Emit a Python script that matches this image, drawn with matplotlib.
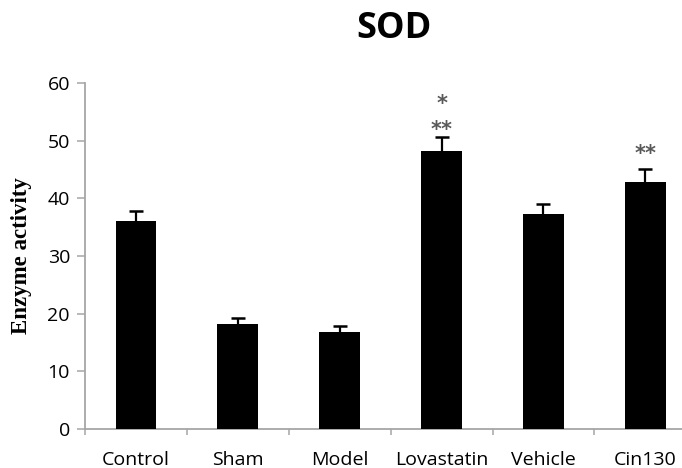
import matplotlib.pyplot as plt
import numpy as np

groups = ["Control", "Sham", "Model", "Lovastatin", "Vehicle", "Cin130"]
activity = [36.0, 18.2, 16.9, 48.2, 37.2, 42.9]
err_up = [1.8, 1.0, 0.9, 2.5, 1.9, 2.2]
# significance marks: (group index, text, height of mark centre)
marks = [(3, "**", 52.8), (3, "*", 57.3), (5, "**", 48.6)]

fig = plt.figure(figsize=(6.82, 4.68), dpi=100)
ax = fig.add_axes([85/682, 1 - 429/468, 1 - 85/682, (429 - 83)/468])

x = np.arange(len(groups))
top = np.array(activity) + np.array(err_up)
ax.vlines(x, activity, top, color="black", lw=1.6, zorder=2)
ax.plot(x, top, "_", color="black", ms=10, mew=1.8, zorder=2)
ax.bar(x, activity, width=0.40, color="black", zorder=3)

# asterisk glyph sits ~0.55 em above the baseline
fs = 15
px_per_unit = (429 - 83) / 60
for i, txt, yc in marks:
    ax.text(x[i], yc - 0.55 * fs / 72 * 100 / px_per_unit, txt, ha="center",
            va="baseline", fontsize=fs, fontweight="bold", color="#595959",
            fontfamily="DejaVu Sans")

ax.set_xlim(-0.5, 5.36)
ax.set_ylim(0, 60)
ax.set_yticks(range(0, 61, 10))
ax.set_xticks(x)
ax.set_xticklabels(groups, fontfamily="Open Sans", fontsize=14)
ax.set_xticks(np.arange(-0.5, 5, 1), minor=True)
ax.tick_params(axis="x", which="major", length=0, pad=16)
ax.tick_params(axis="x", which="minor", length=4, color="#a6a6a6", width=1.1)
ax.tick_params(axis="y", length=5.8, color="#a6a6a6", width=1.1, labelsize=14, pad=5)
for lab in ax.get_yticklabels():
    lab.set_fontfamily("Open Sans")

for s in ["top", "right"]:
    ax.spines[s].set_visible(False)
for s in ["left", "bottom"]:
    ax.spines[s].set_color("#a6a6a6")
    ax.spines[s].set_linewidth(1.3)

fig.text(22/682, 1 - 256/468, "Enzyme activity", rotation=90, ha="center", va="center",
         fontfamily="Liberation Serif", fontweight="bold", fontsize=16.5)

fig.text(394/682, 1 - 29/468, "SOD", ha="center", va="center",
         fontfamily="Open Sans", fontweight="bold", fontsize=26)

fig.savefig("out.png", dpi=100)
